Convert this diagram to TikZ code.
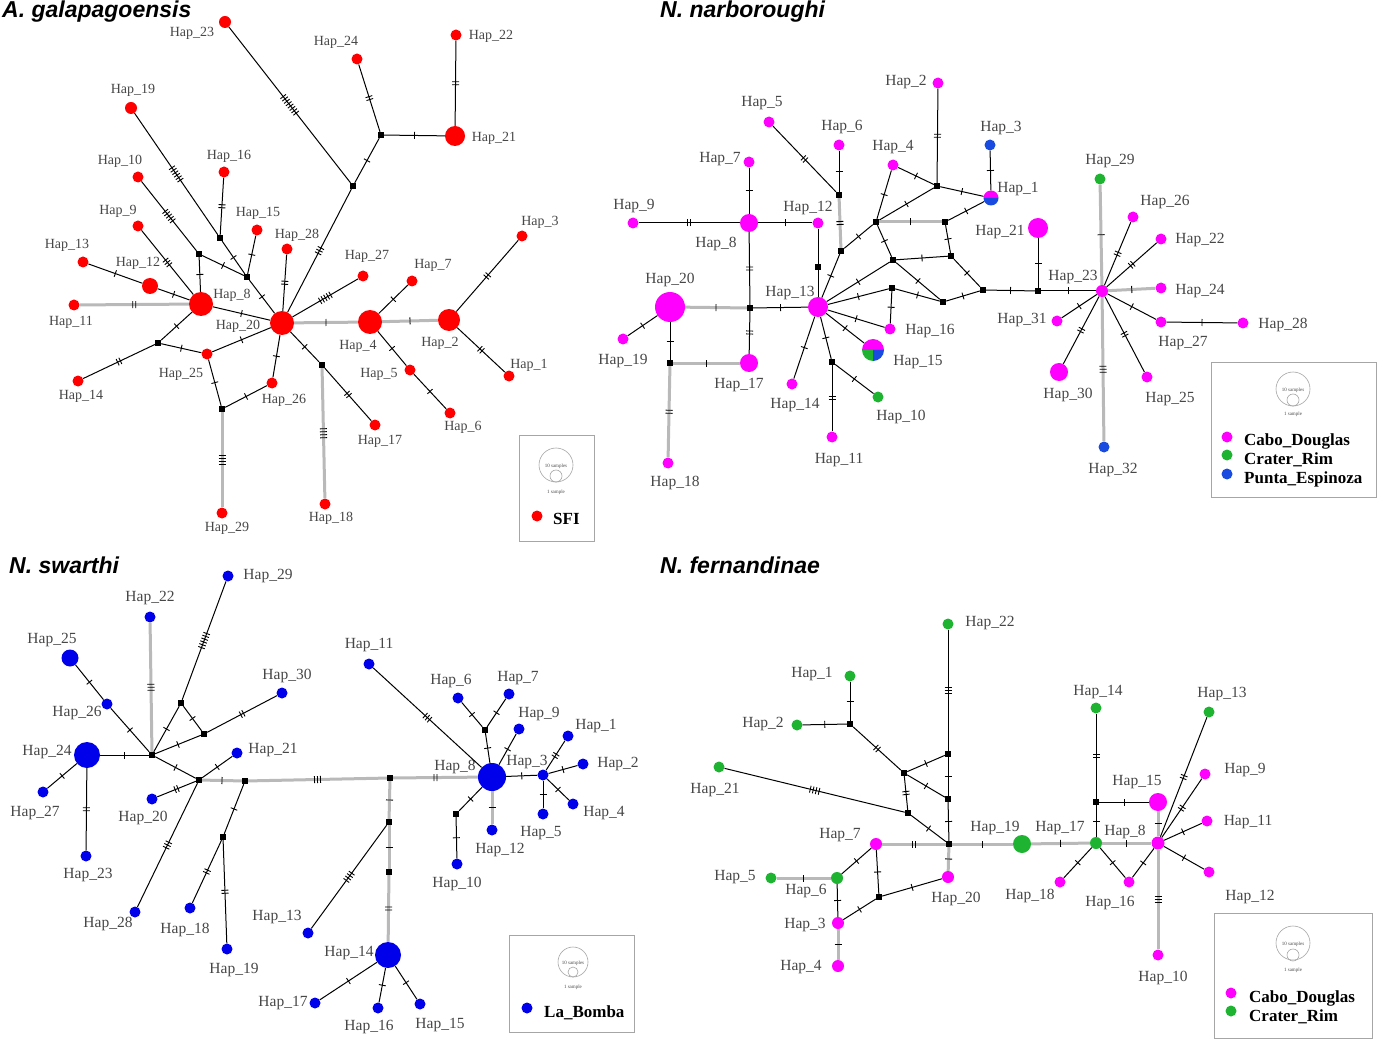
\documentclass[tikz,border=0pt]{standalone}
\usepackage{fontspec}
\setmainfont{Liberation Serif}
\newfontfamily\titfont{Liberation Sans}
\usetikzlibrary{decorations.markings}
\definecolor{hred}{RGB}{255,0,0}
\definecolor{hmag}{RGB}{255,0,255}
\definecolor{hgrn}{RGB}{30,180,50}
\definecolor{hblu}{RGB}{25,75,225}
\definecolor{hblb}{RGB}{0,0,235}
\tikzset{
  hap/.style={circle,inner sep=0pt,draw=none},
  med/.style={rectangle,fill=black,inner sep=0pt,minimum size=6pt},
  lab/.style={text=black!72,inner sep=0pt,font=\fontsize{14}{14}\selectfont},
  lnk/.style={draw=black,line width=1pt},
  gln/.style={draw=gray!55,line width=3pt},
  tk/.style={draw=black,line width=0.9pt},
  ttl/.style={inner sep=0pt,anchor=west,font=\titfont\bfseries\itshape\fontsize{23}{23}\selectfont},
  legbox/.style={draw=gray!70,line width=1pt},
  legtxt/.style={inner sep=0pt,anchor=west,font=\bfseries\fontsize{17}{17}\selectfont},
  tiny/.style={inner sep=0pt,font=\fontsize{5}{5}\selectfont,text=black!70},
  lcirc/.style={circle,draw=gray!70,line width=0.6pt,inner sep=0pt}
}
\newcommand\hp[6]{\node[hap,fill=#1,minimum size=#4pt] (#2) at (#3) {};
  \node[lab] (#2l) at (#6) {Hap\_#5};}
\newcommand\md[2]{\node[med] (#1) at (#2) {};}
\newcommand\ed[4][]{\draw[lnk,#1,postaction={decorate,decoration={markings,mark=at position 0.5 with {\foreach \k in {1,...,#4}{\draw[tk] ({(\k-(#4+1)/2)*3pt},-3.5pt) -- ++(0,7pt);}}}}] (#2) -- (#3);}
\newcommand\el[3][]{\draw[lnk,#1] (#2) -- (#3);}
\begin{document}
\begin{tikzpicture}[x=1pt,y=-1pt]
\useasboundingbox (0,0) rectangle (1378,1040);
\fill[white] (0,0) rectangle (1378,1040);
% ================= Q1 =================
\node[ttl] (t1) at (2,12) {A. galapagoensis};
\begin{scope}[lab/.append style={font=\fontsize{14}{14}\selectfont}]
\hp{hred}{a23}{225,22}{12}{23}{192,33}
\hp{hred}{a24}{357,59}{11}{24}{336,42}
\hp{hred}{a22}{456,35}{11}{22}{491,36}
\hp{hred}{a21}{455,136}{20}{21}{494,138}
\hp{hred}{a19}{131,108}{12}{19}{133,90}
\hp{hred}{a10}{138,177}{11}{10}{120,161}
\hp{hred}{a16}{224,172}{11}{16}{229,156}
\hp{hred}{a15}{257,230}{11}{15}{258,213}
\hp{hred}{a28}{287,249}{11}{28}{297,235}
\hp{hred}{a27}{363,276}{11}{27}{367,256}
\hp{hred}{a9}{138,226}{11}{9}{118,211}
\hp{hred}{a13}{83,262}{11}{13}{67,245}
\hp{hred}{a12}{150,286}{16}{12}{138,263}
\hp{hred}{a8}{201,304}{24}{8}{232,295}
\hp{hred}{a11}{74,305}{11}{11}{71,322}
\hp{hred}{a20}{282,323}{24}{20}{238,326}
\hp{hred}{a4}{370,322}{24}{4}{358,346}
\hp{hred}{a2}{449,320}{22}{2}{440,343}
\hp{hred}{a3}{522,236}{11}{3}{540,222}
\hp{hred}{a7}{412,281}{11}{7}{433,265}
\hp{hred}{a1}{509,376}{11}{1}{529,365}
\hp{hred}{a5}{410,370}{11}{5}{379,374}
\hp{hred}{a6}{450,413}{11}{6}{463,427}
\hp{hred}{a17}{375,425}{11}{17}{380,441}
\hp{hred}{a18}{325,504}{11}{18}{331,518}
\hp{hred}{a25}{207,354}{11}{25}{181,374}
\hp{hred}{a26}{272,383}{11}{26}{284,400}
\hp{hred}{a14}{78,381}{11}{14}{81,396}
\hp{hred}{a29}{222,513}{11}{29}{227,528}
\end{scope}
\md{am1}{381,135}\md{am2}{353,186}\md{amA}{199,254}\md{amB}{247,277}
\md{amC}{220,238}\md{amD}{158,343}\md{amE}{222,409}\md{amF}{322,365}
\ed{a22}{a21}{2}
\ed{a21}{am1}{1}
\ed{a24}{am1}{2}
\ed{am1}{am2}{1}
\ed{a23}{am2}{8}
\ed{am2}{a20}{3}
\ed{a19}{amC}{6}
\ed{a10}{amA}{5}
\ed{a16}{amC}{2}
\ed{amC}{amB}{1}
\ed{amA}{amB}{1}
\ed{amA}{a8}{1}
\ed{a15}{amB}{1}
\ed{amB}{a20}{1}
\ed{a28}{a20}{2}
\ed{a27}{a20}{5}
\ed{a9}{a8}{3}
\ed{a13}{a12}{1}
\ed{a12}{a8}{1}
\ed[gln]{a11}{a8}{2}
\ed{a8}{a20}{1}
\ed{a8}{amD}{1}
\ed{amD}{a14}{2}
\ed{amD}{a25}{1}
\ed{a25}{a20}{1}
\ed{a25}{amE}{1}
\ed{amE}{a26}{1}
\ed{a26}{a20}{1}
\ed[gln]{amE}{a29}{4}
\ed[gln]{a20}{a4}{1}
\ed{a20}{amF}{1}
\ed{amF}{a17}{2}
\ed[gln]{amF}{a18}{4}
\ed{a4}{a7}{1}
\ed{a4}{a5}{1}
\ed{a5}{a6}{1}
\ed[gln]{a4}{a2}{1}
\ed{a2}{a3}{2}
\ed{a2}{a1}{2}
% legend Q1
\draw[legbox] (519,435) rectangle (594,541);
\node[lcirc,minimum size=34pt] (lg1a) at (556,465) {};
\node[lcirc,minimum size=12pt] (lg1b) at (556,476) {};
\node[tiny] (lg1c) at (556,466) {10 samples};
\node[tiny] (lg1d) at (556,492) {1 sample};
\node[hap,fill=hred,minimum size=11pt] (lg1e) at (537,516) {};
\node[legtxt] (lg1f) at (553,519) {SFI};
% ================= Q2 =================
\node[ttl] (t2) at (660,12) {N. narboroughi};
\begin{scope}[lab/.append style={font=\fontsize{15.5}{15.5}\selectfont}]
\hp{hmag}{n2}{938,83}{11}{2}{906,82}
\hp{hmag}{n5}{769,122}{11}{5}{762,103}
\hp{hmag}{n6}{839,145}{11}{6}{842,127}
\hp{hblu}{n3}{990,145}{11}{3}{1001,128}
\hp{hmag}{n4}{893,165}{11}{4}{893,147}
\hp{hmag}{n7}{749,162}{11}{7}{720,159}
\hp{none}{n1}{991,198}{15}{1}{1018,189}
\hp{hmag}{n9}{633,223}{11}{9}{634,206}
\hp{hmag}{n8}{749,223}{18}{8}{716,244}
\hp{hmag}{n12}{818,223}{11}{12}{808,208}
\hp{hmag}{n21}{1038,228}{20}{21}{1000,232}
\hp{hmag}{n20}{670,307}{30}{20}{670,280}
\hp{hmag}{n13}{818,307}{20}{13}{790,293}
\hp{hmag}{n16}{890,329}{11}{16}{930,331}
\hp{hmag}{n19}{623,339}{11}{19}{623,361}
\hp{none}{n15}{873,350}{22}{15}{918,362}
\hp{hmag}{n17}{749,363}{18}{17}{739,385}
\hp{hmag}{n14}{792,384}{11}{14}{795,405}
\hp{hgrn}{n10}{878,397}{11}{10}{901,417}
\hp{hmag}{n11}{832,437}{11}{11}{839,460}
\hp{hmag}{n18}{668,463}{11}{18}{675,483}
\hp{hgrn}{n29}{1100,179}{11}{29}{1110,161}
\hp{hmag}{n26}{1133,217}{11}{26}{1165,202}
\hp{hmag}{n22}{1161,239}{11}{22}{1200,240}
\hp{hmag}{n23}{1102,291}{12}{23}{1073,277}
\hp{hmag}{n24}{1161,288}{11}{24}{1200,291}
\hp{hmag}{n31}{1057,321}{11}{31}{1022,320}
\hp{hmag}{n27}{1161,322}{11}{27}{1183,343}
\hp{hmag}{n28}{1243,323}{11}{28}{1283,325}
\hp{hmag}{n30}{1059,372}{18}{30}{1068,395}
\hp{hmag}{n25}{1147,377}{11}{25}{1170,399}
\hp{hblu}{n32}{1104,447}{11}{32}{1113,470}
\end{scope}
\fill[hmag] (n1.center) ++(7.5,0) arc[start angle=0,end angle=-180,radius=7.5] -- cycle;
\fill[hblu] (n1.center) ++(7.5,0) arc[start angle=0,end angle=180,radius=7.5] -- cycle;
\fill[hmag] (n15.center) ++(11,0) arc[start angle=0,end angle=-180,radius=11] -- cycle;
\fill[hgrn] (n15.center) -- ++(-11,0) arc[start angle=180,end angle=90,radius=11] -- cycle;
\fill[hblu] (n15.center) -- ++(0,11) arc[start angle=90,end angle=0,radius=11] -- cycle;
\md{nm1}{937,186}\md{nm2}{839,195}\md{nm3}{876,222}\md{nm4}{945,222}
\md{nm5}{841,251}\md{nm6}{951,256}\md{nm7}{893,260}\md{nm8}{892,288}
\md{nm9}{983,290}\md{nm10}{943,302}\md{nm11}{750,308}\md{nm12}{670,363}
\md{nm13}{832,362}\md{nm14}{1038,291}\md{nm15}{818,267}
\ed{n2}{nm1}{2}
\ed{n4}{nm1}{1}
\ed{nm1}{n1}{1}
\ed{n3}{n1}{1}
\ed{nm3}{nm1}{1}
\ed{nm3}{n4}{1}
\ed[gln]{nm3}{nm4}{1}
\ed{nm4}{n1}{1}
\ed{nm4}{nm6}{1}
\ed{nm3}{nm7}{1}
\ed{nm7}{nm6}{1}
\ed{nm7}{nm10}{1}
\ed{nm6}{nm9}{1}
\ed{nm10}{nm9}{1}
\ed{nm9}{nm14}{1}
\ed{nm14}{n21}{1}
\ed{nm14}{n23}{1}
\ed{n13}{nm5}{1}
\ed{nm5}{nm3}{1}
\ed{n13}{nm7}{1}
\ed{n13}{nm8}{1}
\ed{nm8}{n16}{1}
\ed{nm8}{nm10}{1}
\ed{n6}{nm2}{1}
\ed[gln]{nm2}{nm5}{2}
\ed{n5}{nm2}{2}
\ed{n7}{n8}{1}
\ed{n9}{n8}{2}
\ed{n8}{n12}{1}
\el{n12}{nm15}
\el{nm15}{n13}
\ed{n8}{nm11}{2}
\ed{nm11}{n13}{1}
\ed[gln]{n20}{nm11}{1}
\ed{nm11}{n17}{2}
\ed{n20}{n19}{1}
\ed{n20}{nm12}{1}
\ed[gln]{nm12}{n17}{1}
\ed[gln]{nm12}{n18}{2}
\ed{n13}{n16}{1}
\ed{n13}{n15}{1}
\ed{n13}{n14}{1}
\ed{n13}{nm13}{1}
\ed{nm13}{n10}{1}
\ed{nm13}{n11}{2}
\ed[gln]{n29}{n23}{1}
\ed{n26}{n23}{2}
\ed{n22}{n23}{2}
\ed[gln]{n24}{n23}{1}
\ed{n27}{n23}{1}
\ed{n27}{n28}{1}
\ed{n31}{n23}{1}
\ed{n30}{n23}{2}
\ed{n25}{n23}{2}
\ed[gln]{n32}{n23}{3}
% legend Q2
\draw[legbox] (1211,362) rectangle (1376,497);
\node[lcirc,minimum size=34pt] (lg2a) at (1293,389) {};
\node[lcirc,minimum size=12pt] (lg2b) at (1293,400) {};
\node[tiny] (lg2c) at (1293,390) {10 samples};
\node[tiny] (lg2d) at (1293,414) {1 sample};
\node[hap,fill=hmag,minimum size=11pt] (lg2e) at (1227,437) {};
\node[hap,fill=hgrn,minimum size=11pt] (lg2f) at (1227,455) {};
\node[hap,fill=hblu,minimum size=11pt] (lg2g) at (1227,474) {};
\node[legtxt] (lg2h) at (1244,441) {Cabo\_Douglas};
\node[legtxt] (lg2i) at (1244,460) {Crater\_Rim};
\node[legtxt] (lg2j) at (1244,479) {Punta\_Espinoza};
% ================= Q3 =================
\node[ttl] (t3) at (9,565) {N. swarthi};
\begin{scope}[lab/.append style={font=\fontsize{15.5}{15.5}\selectfont}]
\hp{hblb}{s29}{228,576}{11}{29}{268,576}
\hp{hblb}{s22}{150,617}{11}{22}{150,598}
\hp{hblb}{s25}{70,658}{17}{25}{52,640}
\hp{hblb}{s30}{282,693}{11}{30}{287,676}
\hp{hblb}{s26}{107,704}{11}{26}{77,713}
\hp{hblb}{s24}{87,755}{26}{24}{47,752}
\hp{hblb}{s21}{237,753}{11}{21}{273,750}
\hp{hblb}{s27}{43,792}{11}{27}{35,813}
\hp{hblb}{s20}{152,799}{11}{20}{143,818}
\hp{hblb}{s23}{86,856}{11}{23}{88,875}
\hp{hblb}{s28}{135,912}{11}{28}{108,924}
\hp{hblb}{s18}{190,908}{11}{18}{185,930}
\hp{hblb}{s19}{227,949}{11}{19}{234,970}
\hp{hblb}{s13}{308,933}{11}{13}{277,917}
\hp{hblb}{s17}{315,1003}{11}{17}{283,1003}
\hp{hblb}{s11}{369,664}{11}{11}{369,645}
\hp{hblb}{s6}{458,698}{11}{6}{451,681}
\hp{hblb}{s7}{509,694}{11}{7}{518,678}
\hp{hblb}{s9}{519,729}{11}{9}{539,714}
\hp{hblb}{s1}{568,736}{11}{1}{596,726}
\hp{hblb}{s8}{492,777}{28}{8}{455,767}
\hp{hblb}{s3}{543,775}{11}{3}{527,762}
\hp{hblb}{s2}{583,764}{11}{2}{618,764}
\hp{hblb}{s4}{573,804}{11}{4}{604,813}
\hp{hblb}{s5}{543,814}{11}{5}{541,833}
\hp{hblb}{s12}{492,830}{11}{12}{500,850}
\hp{hblb}{s10}{457,864}{11}{10}{457,884}
\hp{hblb}{s14}{388,955}{26}{14}{349,953}
\hp{hblb}{s16}{378,1008}{11}{16}{369,1027}
\hp{hblb}{s15}{420,1004}{11}{15}{440,1025}
\end{scope}
\md{sm1}{181,703}\md{sm2}{204,734}\md{sm3}{152,755}\md{sm4}{199,780}
\md{sm5}{245,781}\md{sm6}{223,837}\md{sm7}{485,730}\md{sm8}{390,778}
\md{sm9}{456,814}\md{sm10}{389,822}\md{sm11}{389,872}
\ed{s29}{sm1}{6}
\ed[gln]{s22}{sm3}{3}
\ed{s25}{s26}{1}
\ed{s26}{sm3}{1}
\ed{s24}{sm3}{1}
\ed{sm1}{sm3}{1}
\ed{sm1}{sm2}{1}
\ed{sm3}{sm2}{1}
\ed{s30}{sm2}{2}
\ed{sm3}{sm4}{1}
\ed{s24}{s27}{1}
\ed{s24}{s23}{2}
\ed{s21}{sm4}{1}
\ed{s20}{sm4}{2}
\ed{sm4}{s28}{3}
\ed[gln]{sm4}{sm5}{1}
\ed{sm5}{sm6}{1}
\ed{sm6}{s18}{2}
\ed{sm6}{s19}{2}
\ed[gln]{sm5}{sm8}{3}
\ed[gln]{sm8}{s8}{2}
\ed{s11}{s8}{3}
\ed{s6}{sm7}{1}
\ed{s7}{sm7}{1}
\ed{sm7}{s8}{1}
\ed{s9}{s8}{1}
\ed{s8}{s3}{1}
\ed{s3}{s1}{2}
\ed{s3}{s2}{1}
\ed{s3}{s4}{1}
\ed{s3}{s5}{1}
\ed[gln]{s8}{s12}{1}
\ed{s8}{sm9}{1}
\ed{sm9}{s10}{1}
\ed[gln]{sm8}{sm10}{1}
\ed[gln]{sm10}{sm11}{1}
\ed[gln]{sm11}{s14}{2}
\ed{sm10}{s13}{4}
\ed{s14}{s17}{1}
\ed{s14}{s16}{1}
\ed{s14}{s15}{1}
% legend Q3
\draw[legbox] (509,935) rectangle (634,1032);
\node[lcirc,minimum size=30pt] (lg3a) at (573,962) {};
\node[lcirc,minimum size=10pt] (lg3b) at (573,972) {};
\node[tiny] (lg3c) at (573,963) {10 samples};
\node[tiny] (lg3d) at (573,987) {1 sample};
\node[hap,fill=hblb,minimum size=11pt] (lg3e) at (527,1008) {};
\node[legtxt] (lg3f) at (544,1013) {La\_Bomba};
% ================= Q4 =================
\node[ttl] (t4) at (660,565) {N. fernandinae};
\begin{scope}[lab/.append style={font=\fontsize{15.5}{15.5}\selectfont}]
\hp{hgrn}{f22}{948,624}{11}{22}{990,623}
\hp{hgrn}{f1}{850,676}{11}{1}{812,674}
\hp{hgrn}{f2}{797,725}{11}{2}{763,724}
\hp{hgrn}{f21}{719,767}{11}{21}{715,790}
\hp{hmag}{f7}{876,844}{12}{7}{840,835}
\hp{hgrn}{f19}{1022,844}{18}{19}{995,828}
\hp{hgrn}{f5}{771,878}{11}{5}{735,877}
\hp{hgrn}{f6}{837,878}{12}{6}{806,891}
\hp{hmag}{f20}{948,877}{12}{20}{956,899}
\hp{hmag}{f3}{838,923}{12}{3}{805,925}
\hp{hmag}{f4}{838,966}{12}{4}{801,967}
\hp{hgrn}{f14}{1096,708}{11}{14}{1098,692}
\hp{hgrn}{f13}{1209,712}{11}{13}{1222,694}
\hp{hmag}{f9}{1205,774}{11}{9}{1245,770}
\hp{hmag}{f15}{1158,802}{18}{15}{1137,782}
\hp{hmag}{f11}{1207,821}{11}{11}{1248,822}
\hp{hgrn}{f17}{1096,843}{12}{17}{1060,828}
\hp{hmag}{f8}{1158,843}{13}{8}{1125,832}
\hp{hmag}{f12}{1209,872}{11}{12}{1250,897}
\hp{hmag}{f18}{1060,882}{11}{18}{1030,896}
\hp{hmag}{f16}{1129,882}{11}{16}{1110,903}
\hp{hmag}{f10}{1158,955}{11}{10}{1163,978}
\end{scope}
\md{fm1}{850,724}\md{fm2}{948,754}\md{fm3}{904,773}\md{fm4}{948,799}
\md{fm5}{908,813}\md{fm6}{949,844}\md{fm7}{879,897}\md{fm8}{1096,802}
\ed{f22}{fm2}{3}
\ed{f1}{fm1}{1}
\ed{f2}{fm1}{1}
\ed{fm1}{fm3}{2}
\ed{fm3}{fm2}{1}
\ed{fm3}{fm4}{1}
\ed{fm2}{fm4}{1}
\ed{fm3}{fm5}{2}
\ed{f21}{fm5}{4}
\ed{fm5}{fm6}{1}
\ed{fm4}{fm6}{1}
\ed[gln]{f7}{fm6}{2}
\ed[gln]{fm6}{f19}{1}
\ed[gln]{fm6}{f20}{1}
\ed{f7}{f6}{1}
\ed[gln]{f5}{f6}{1}
\ed{f7}{fm7}{1}
\ed{f20}{fm7}{1}
\ed{fm7}{f3}{1}
\ed{f6}{f3}{1}
\ed[gln]{f3}{f4}{1}
\ed[gln]{f19}{f17}{1}
\ed{f17}{fm8}{1}
\ed{fm8}{f14}{2}
\ed{fm8}{f15}{1}
\ed[gln]{f17}{f8}{1}
\ed{f17}{f18}{1}
\ed{f17}{f16}{1}
\ed{f16}{f8}{1}
\ed[gln]{f15}{f8}{1}
\ed{f8}{f13}{2}
\ed{f8}{f9}{2}
\ed{f8}{f11}{1}
\ed{f8}{f12}{1}
\ed[gln]{f8}{f10}{3}
% legend Q4
\draw[legbox] (1214,913) rectangle (1372,1038);
\node[lcirc,minimum size=34pt] (lg4a) at (1293,943) {};
\node[lcirc,minimum size=12pt] (lg4b) at (1293,955) {};
\node[tiny] (lg4c) at (1293,944) {10 samples};
\node[tiny] (lg4d) at (1293,970) {1 sample};
\node[hap,fill=hmag,minimum size=11pt] (lg4e) at (1231,993) {};
\node[hap,fill=hgrn,minimum size=11pt] (lg4f) at (1231,1011) {};
\node[legtxt] (lg4g) at (1249,998) {Cabo\_Douglas};
\node[legtxt] (lg4h) at (1249,1017) {Crater\_Rim};
\end{tikzpicture}
\end{document}
